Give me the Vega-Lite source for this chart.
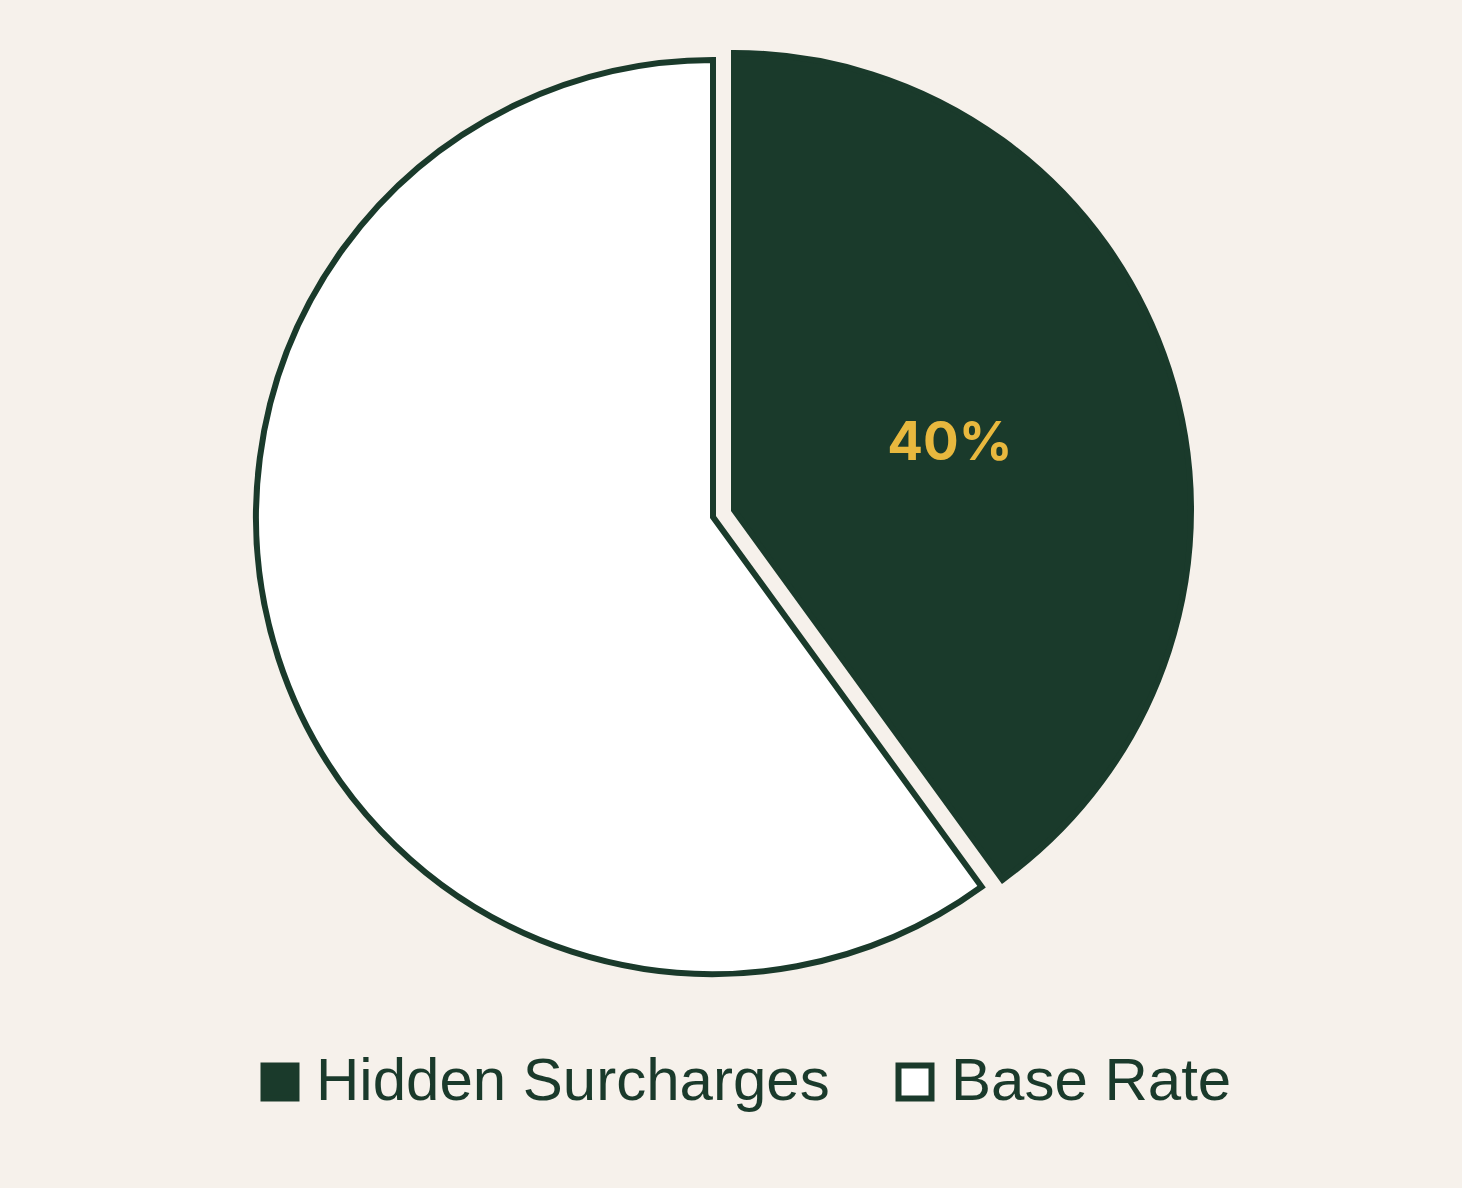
{
  "$schema": "https://vega.github.io/schema/vega-lite/v6.json",
  "description": "Pie chart: share of hidden surcharges versus base rate.",
  "autosize": {"type": "none"},
  "width": 1426,
  "height": 1034,
  "padding": {"left": 0, "top": 0, "right": 36, "bottom": 154},
  "background": "#f6f1eb",
  "config": {"view": {"stroke": null}},
  "data": {
    "values": [
      {"category": "Hidden Surcharges", "share": 40, "order": 1, "label": "40%"},
      {"category": "Base Rate", "share": 60, "order": 2, "label": ""}
    ]
  },
  "encoding": {
    "theta": {"field": "share", "type": "quantitative", "stack": true},
    "order": {"field": "order", "type": "quantitative"}
  },
  "layer": [
    {
      "mark": {"type": "arc", "radius": 457, "stroke": "#1a3a2b", "strokeWidth": 6},
      "encoding": {
        "color": {
          "field": "category",
          "type": "nominal",
          "sort": ["Hidden Surcharges", "Base Rate"],
          "scale": {"domain": ["Hidden Surcharges", "Base Rate"], "range": ["#1a3a2b", "#ffffff"]},
          "legend": {
            "title": null,
            "orient": "none",
            "direction": "horizontal",
            "legendX": 250,
            "legendY": 1052,
            "symbolType": "square",
            "symbolSize": 1089,
            "symbolStrokeColor": "#1a3a2b",
            "symbolStrokeWidth": 6,
            "symbolOpacity": 1,
            "labelFont": "Liberation Sans",
            "labelFontSize": 60,
            "labelColor": "#1a3a2b",
            "labelOffset": 6,
            "labelLimit": 0,
            "columnPadding": 55
          }
        },
        "opacity": {"condition": {"test": "datum.category === 'Base Rate'", "value": 1}, "value": 0}
      }
    },
    {
      "mark": {"type": "arc", "radius": 457, "stroke": "#1a3a2b", "strokeWidth": 6, "xOffset": 21, "yOffset": -7},
      "encoding": {
        "color": {"field": "category", "type": "nominal"},
        "opacity": {"condition": {"test": "datum.category === 'Hidden Surcharges'", "value": 1}, "value": 0}
      }
    },
    {
      "mark": {"type": "text", "radius": 227, "xOffset": 21, "yOffset": -3, "font": "Inter", "fontSize": 53, "fontWeight": "bold", "color": "#e8b83e"},
      "encoding": {
        "text": {"field": "label", "type": "nominal"}
      }
    }
  ]
}
